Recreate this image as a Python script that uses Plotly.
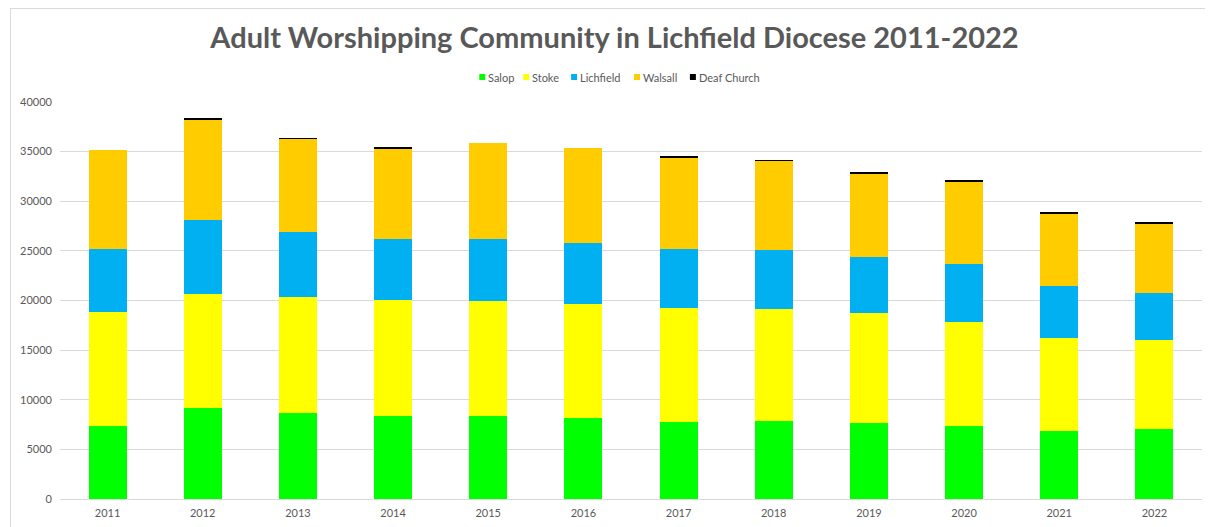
import plotly.graph_objects as go

years = ["2011", "2012", "2013", "2014", "2015", "2016", "2017", "2018", "2019", "2020", "2021", "2022"]
salop = [7350, 9170, 8665, 8400, 8330, 8195, 7790, 7890, 7690, 7355, 6850, 7050]
stoke = [11520, 11520, 11720, 11620, 11650, 11450, 11420, 11220, 11050, 10445, 9340, 8935]
lichfield = [6310, 7455, 6480, 6150, 6180, 6180, 5980, 6010, 5640, 5910, 5305, 4770]
walsall = [9980, 10110, 9470, 9170, 9670, 9540, 9240, 8970, 8430, 8300, 7290, 7020]
deaf_church = [0, 40, 35, 35, 0, 0, 100, 40, 40, 40, 40, 40]

series_names = ["Salop", "Stoke", "Lichfield", "Walsall", "Deaf Church"]
series_values = [salop, stoke, lichfield, walsall, deaf_church]
series_colors = ["#00FF00", "#FFFF00", "#00B0F0", "#FFCC00", "#000000"]

# legend swatch left edges (screen px) - layout only
legend_px = [478, 522, 570, 633, 689]

TXT = "#595959"
FONT = "Lato, Open Sans, sans-serif"

fig = go.Figure()
for name, vals, col in zip(series_names, series_values, series_colors):
    fig.add_trace(go.Bar(x=years, y=vals, name=name, showlegend=False,
                         marker=dict(color=col, line=dict(width=0))))

W, H = 1213, 527
ml, mr, mt, mb = 50, 19, 94, 36
pw, ph = W - ml - mr, H - mt - mb
# page offset of 8px (body margin): screen px -> paper
def px_x(sx):
    return (sx - 8 - ml) / pw
def px_y(sy):
    return (H - mb - (sy - 8)) / ph

shapes = [
    dict(type="line", xref="paper", yref="paper", x0=px_x(8.5), x1=px_x(8.5), y0=px_y(8), y1=px_y(540),
         line=dict(color="#d9d9d9", width=1)),
    dict(type="line", xref="paper", yref="paper", x0=px_x(8), x1=px_x(1300), y0=px_y(8.5), y1=px_y(8.5),
         line=dict(color="#d9d9d9", width=1)),
]
annotations = []
for name, col, lx in zip(series_names, series_colors, legend_px):
    shapes.append(dict(type="rect", xref="paper", yref="paper",
                       x0=px_x(lx), x1=px_x(lx + 6), y0=px_y(80), y1=px_y(74),
                       fillcolor=col, line=dict(width=0)))
    annotations.append(dict(text=name, xref="paper", yref="paper", x=px_x(lx + 7), y=px_y(77),
                            xanchor="left", yanchor="middle", showarrow=False,
                            font=dict(size=11, color=TXT, family=FONT)))

fig.update_layout(
    width=W, height=H,
    barmode="stack", bargap=0.6,
    paper_bgcolor="white", plot_bgcolor="white",
    margin=dict(l=ml, r=mr, t=mt, b=mb),
    font=dict(family=FONT, color=TXT, size=11),
    title=dict(text="<b>Adult Worshipping Community in Lichfield Diocese 2011-2022</b>",
               x=0.5, xanchor="center", y=1 - 30 / H, yanchor="middle",
               font=dict(size=29, color=TXT, family=FONT)),
    showlegend=False,
    xaxis=dict(showgrid=False, showline=False, ticks="", ticklabelstandoff=6,
               tickfont=dict(size=11, color=TXT)),
    yaxis=dict(range=[0, 40000], dtick=5000, showgrid=True, gridcolor="#d9d9d9", gridwidth=1,
               zeroline=True, zerolinecolor="#d9d9d9", zerolinewidth=1, ticklabelstandoff=7,
               tickfont=dict(size=11, color=TXT), ticks="", tickformat="d"),
    shapes=shapes,
    annotations=annotations,
)

fig.write_html("out.html")
